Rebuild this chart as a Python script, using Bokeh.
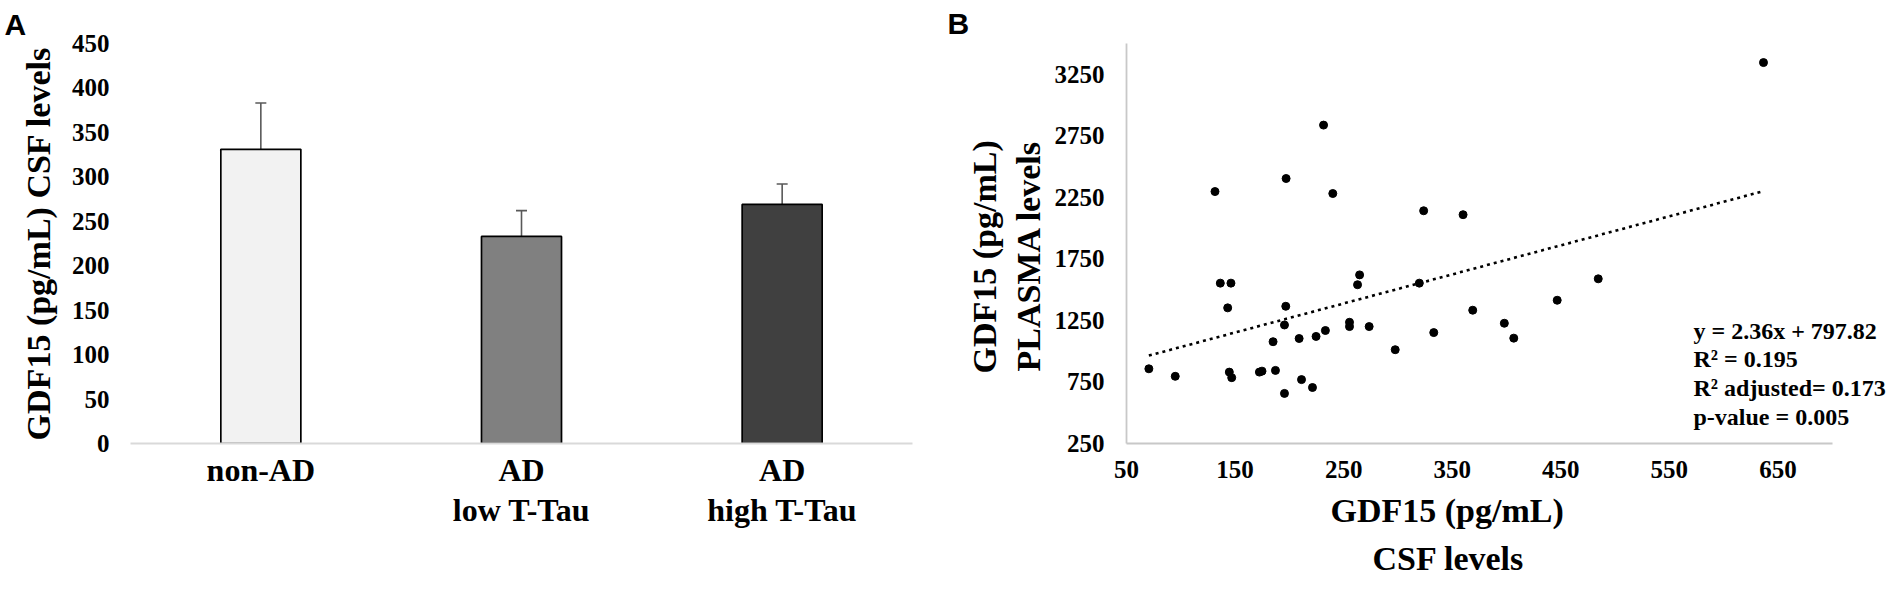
from bokeh.plotting import figure
from bokeh.models import (ColumnDataSource, FactorRange, Range1d, FixedTicker,
                          Whisker, TeeHead, Label, Title)
from bokeh.layouts import row
from bokeh.embed import file_html
from bokeh.resources import INLINE

# ---------------- data ----------------
groups = ["non-AD", "AD\nlow T-Tau", "AD\nhigh T-Tau"]
gdf15_csf_mean = [331, 233, 269]
gdf15_csf_sem = [52, 29, 23]

csf_levels = [131.5, 197, 231.5, 240, 323.7, 136.4, 146.2, 264.7, 262.8, 319.7,
              636.7, 360, 484.5, 446.7, 368.9, 398, 406.7, 333, 143.2, 196.7,
              195.5, 255.4, 255.4, 273.5, 233.2, 224.6, 209, 185, 297.5, 70.6,
              94.9, 144.7, 146.9, 172.4, 174.8, 187.2, 211.2, 221.3, 195.5]
plasma_levels = [2297, 2403, 2837, 2281, 2141, 1553, 1553, 1620, 1540, 1553,
                 3345, 2109, 1588, 1414, 1333, 1227, 1106, 1151, 1352, 1365,
                 1213, 1235, 1200, 1200, 1168, 1120, 1103, 1077, 1012, 857,
                 796, 830, 785, 830, 838, 844, 769, 705, 657]
fit_slope = 2.36
fit_intercept = 797.82
stats_lines = ["y = 2.36x + 797.82", "R\u00b2 = 0.195",
               "R\u00b2 adjusted= 0.173", "p-value = 0.005"]

a_yticks = [0, 50, 100, 150, 200, 250, 300, 350, 400, 450]
b_xticks = [50, 150, 250, 350, 450, 550, 650]
b_yticks = [250, 750, 1250, 1750, 2250, 2750, 3250]
b_xaxis_bounds = (50, 700)

# ---------------- styles ----------------
SERIF = "Liberation Serif"
SANS = "Liberation Sans"
bar_fill = ["#f2f2f2", "#808080", "#404040"]
AXIS_GREY = "#c8c8c8"


def base_style(p):
    p.xgrid.visible = False
    p.ygrid.visible = False
    p.outline_line_color = None
    p.background_fill_color = "white"
    p.border_fill_color = "white"
    for ax in (p.xaxis[0], p.yaxis[0]):
        ax.major_tick_line_color = None
        ax.minor_tick_line_color = None
        ax.major_tick_out = 0
        ax.major_tick_in = 0
        ax.minor_tick_out = 0
        ax.minor_tick_in = 0
        ax.major_label_text_font = SERIF
        ax.major_label_text_font_style = "bold"
        ax.major_label_text_color = "black"
        ax.axis_label_text_font = SERIF
        ax.axis_label_text_font_style = "bold"
        ax.axis_label_text_color = "black"


def title(text, align="left", offset=0, standoff=0, size="34px", font=SERIF,
          valign="bottom"):
    return Title(text=text, align=align, offset=offset, standoff=standoff,
                 vertical_align=valign, text_font=font, text_font_style="bold",
                 text_font_size=size, text_color="black")


# ---------------- panel A ----------------
srcA = ColumnDataSource(dict(
    g=groups, m=gdf15_csf_mean,
    up=[m + s for m, s in zip(gdf15_csf_mean, gdf15_csf_sem)],
    c=bar_fill))

pA = figure(width=932, height=576, x_range=FactorRange(*groups, range_padding=0),
            y_range=Range1d(0, 450), output_backend="svg", toolbar_location=None,
            min_border_left=130, min_border_right=20, min_border_top=40,
            min_border_bottom=121)
base_style(pA)
pA.vbar(x="g", top="m", width=0.307, source=srcA, fill_color="c",
        line_color="black", line_width=1.7)
pA.add_layout(Whisker(source=srcA, base="g", lower="m", upper="up",
                      line_color="#595959", line_width=1.6,
                      upper_head=TeeHead(size=11, line_color="#595959", line_width=1.6),
                      lower_head=None))

pA.yaxis.ticker = FixedTicker(ticks=a_yticks)
pA.yaxis.axis_line_color = None
pA.yaxis.major_label_text_font_size = "25px"
pA.yaxis.major_label_standoff = 21
pA.yaxis.axis_label = "GDF15 (pg/mL) CSF levels"
pA.yaxis.axis_label_text_font_size = "34px"
pA.yaxis.axis_label_standoff = 12

pA.xaxis.axis_line_color = "#d9d9d9"
pA.xaxis.axis_line_width = 2
pA.xaxis.major_label_text_font_size = "32px"
pA.xaxis.major_label_text_line_height = 1.12
pA.xaxis.major_label_standoff = 8

pA.add_layout(title("A", offset=-126, standoff=5, size="30px", font=SANS), "above")

# ---------------- panel B ----------------
srcB = ColumnDataSource(dict(x=csf_levels, y=plasma_levels))
fit_x = [min(csf_levels), max(csf_levels)]
srcFit = ColumnDataSource(dict(x=fit_x, y=[fit_slope * v + fit_intercept for v in fit_x]))

pB = figure(width=956, height=576, x_range=Range1d(50, 750), y_range=Range1d(250, 3500),
            output_backend="svg", toolbar_location=None,
            min_border_left=194, min_border_right=2, min_border_top=43,
            min_border_bottom=129)
base_style(pB)
pB.line(x="x", y="y", source=srcFit, line_color="black", line_width=2.6,
        line_dash="3 4")
pB.scatter(x="x", y="y", source=srcB, size=8, fill_color="black", line_color="black")

pB.xaxis.ticker = FixedTicker(ticks=b_xticks)
pB.xaxis.bounds = b_xaxis_bounds
pB.yaxis.ticker = FixedTicker(ticks=b_yticks)
for ax in (pB.xaxis[0], pB.yaxis[0]):
    ax.axis_line_color = AXIS_GREY
    ax.axis_line_width = 1.8
    ax.major_label_text_font_size = "25px"
pB.yaxis.major_label_standoff = 22
pB.xaxis.major_label_standoff = 17

# y-axis title of panel B (two lines, slightly below the plot centre as in the original)
pB.add_layout(title("PLASMA levels", offset=72, standoff=10), "left")
pB.add_layout(title("GDF15 (pg/mL)", offset=70, standoff=0), "left")

# x-axis title of panel B
pB.add_layout(title("GDF15 (pg/mL)", offset=204, standoff=18), "below")
pB.add_layout(title("CSF levels", offset=246, standoff=0), "below")

for i, txt in enumerate(stats_lines):
    pB.add_layout(Label(x=567, y=113 - i * 28.7, x_units="screen", y_units="screen",
                        text=txt, text_font=SERIF, text_font_style="bold",
                        text_font_size="24px", text_align="left",
                        text_baseline="alphabetic", text_color="black"))

pB.add_layout(title("B", offset=-179, standoff=8, size="30px", font=SANS), "above")

layout = row(pA, pB)
open("out.html", "w").write(file_html(layout, INLINE))
